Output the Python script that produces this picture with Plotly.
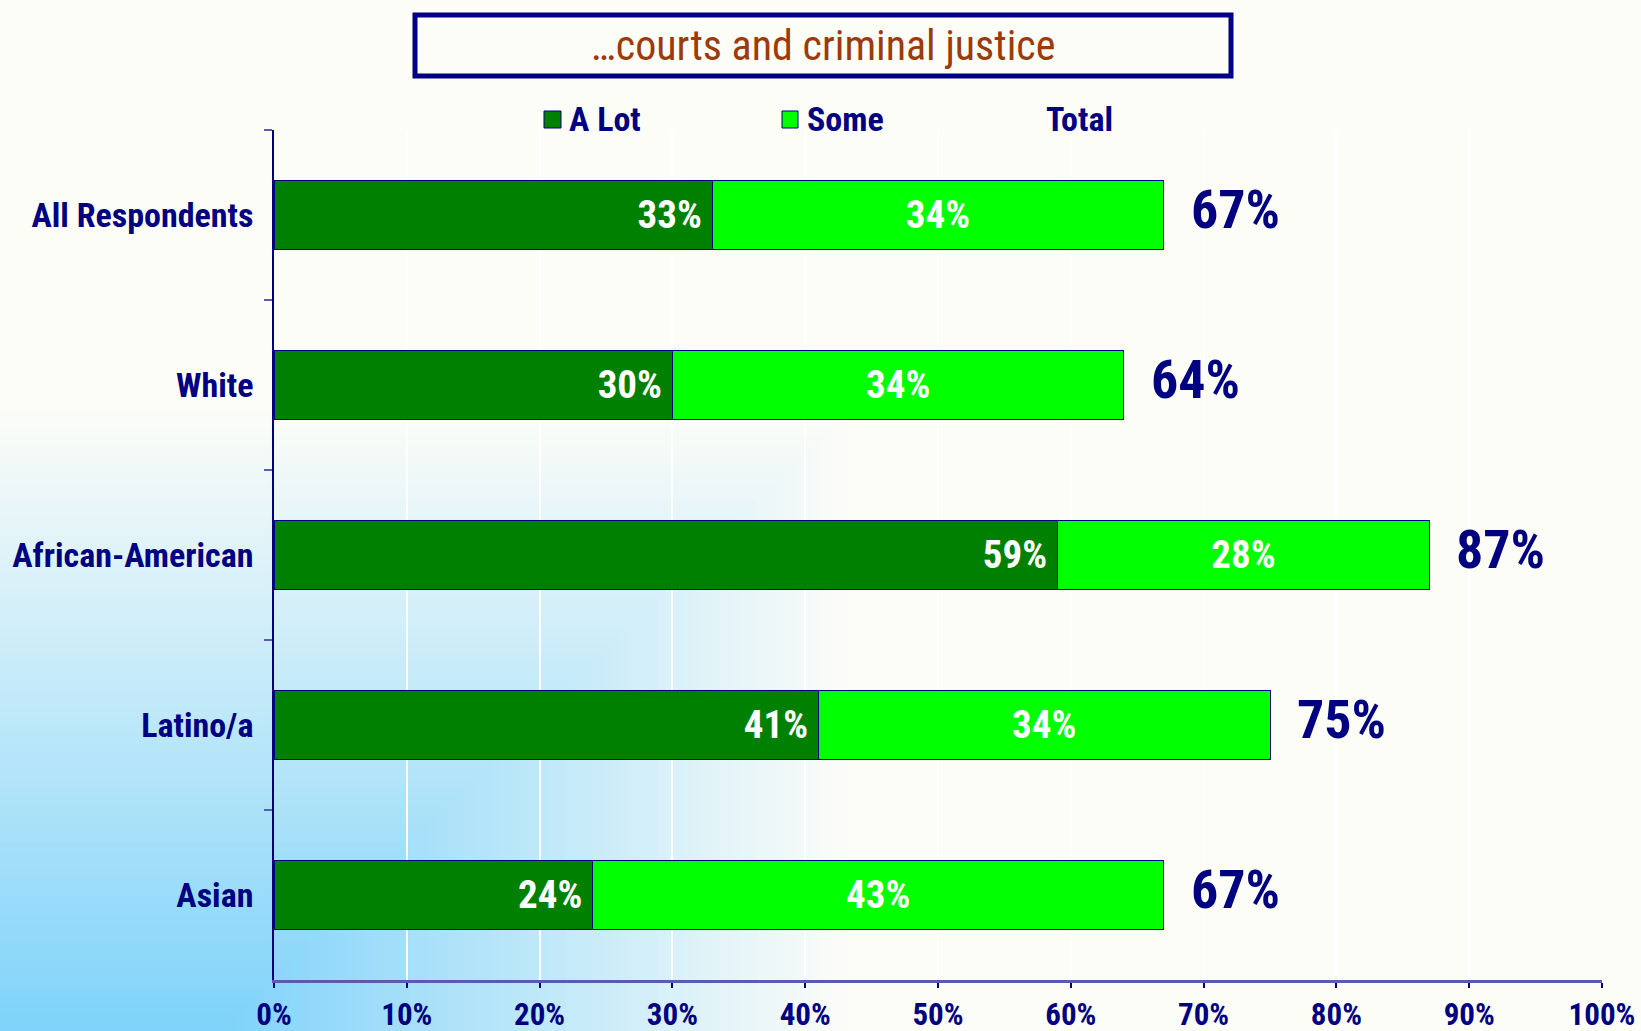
import plotly.graph_objects as go

categories = ["All Respondents", "White", "African-American", "Latino/a", "Asian"]
a_lot = [33, 30, 59, 41, 24]
some = [34, 34, 28, 34, 43]
total = [67, 64, 87, 75, 67]
x_ticks = [0, 10, 20, 30, 40, 50, 60, 70, 80, 90, 100]
x_tick_labels = [f"{v}%" for v in x_ticks]
title_text = "\u2026courts and criminal justice"
legend_names = ["A Lot", "Some", "Total"]

NAVY = "#000080"
DARK = "#008000"
LIGHT = "#00FF00"
BG = "#FDFDF8"
FONT = "Liberation Sans Narrow, Roboto Condensed, Liberation Sans, sans-serif"

W, H = 1641, 1031
L, R, T, B = 274, 1602, 130, 980


def px(x):
    return (x - L) / (R - L)


def py(y):
    return (B - y) / (B - T)


fig = go.Figure()
fig.add_trace(go.Bar(
    y=categories, x=a_lot, orientation="h", name=legend_names[0],
    marker=dict(color=DARK, line=dict(color=NAVY, width=1)),
    text=[f"{v}%\u2009" for v in a_lot], textposition="inside", insidetextanchor="end",
    textfont=dict(family=FONT, size=39, color="white", weight="bold"),
    showlegend=False, hoverinfo="skip",
))
fig.add_trace(go.Bar(
    y=categories, x=some, orientation="h", name=legend_names[1],
    marker=dict(color=LIGHT, line=dict(color=NAVY, width=1)),
    text=[f"{v}%" for v in some], textposition="inside", insidetextanchor="middle",
    textfont=dict(family=FONT, size=39, color="white", weight="bold"),
    showlegend=False, hoverinfo="skip",
))

annotations = []
for c, t in zip(categories, total):
    annotations.append(dict(
        x=t, y=c, xref="x", yref="y", text=f"{t}%", showarrow=False,
        xanchor="left", yanchor="middle", xshift=25, yshift=6,
        font=dict(family=FONT, size=54, color=NAVY, weight="bold"),
    ))

shapes = []
# rectangular background gradient from lower-left corner
c0 = (126, 210, 250)
c1 = (253, 253, 248)
X0, GW, GH = 218, 640, 630
N = 70
for i in range(N):
    t = 1 - i / N
    col = tuple(round(c0[k] + (c1[k] - c0[k]) * t) for k in range(3))
    shapes.append(dict(
        type="rect", xref="paper", yref="paper", layer="below",
        x0=px(-2), x1=px(X0 + t * GW), y0=py(H + 2), y1=py(H - t * GH),
        fillcolor=f"rgb{col}", line=dict(width=0),
    ))

# title box
shapes.append(dict(
    type="rect", xref="paper", yref="paper",
    x0=px(415), x1=px(1231), y0=py(15), y1=py(76),
    fillcolor=BG, line=dict(color=NAVY, width=5),
))
annotations.append(dict(
    x=px(823), y=py(46), xref="paper", yref="paper", text=title_text,
    showarrow=False, xanchor="center", yanchor="middle",
    font=dict(family=FONT, size=42, color="#9C3A0A"),
))

# legend
leg_sq = [(544, 561, DARK), (782, 798, LIGHT)]
for (x0, x1, col) in leg_sq:
    shapes.append(dict(
        type="rect", xref="paper", yref="paper",
        x0=px(x0), x1=px(x1), y0=py(111), y1=py(128),
        fillcolor=col, line=dict(color=NAVY, width=1),
    ))
leg_text_x = [567, 805, 1044]
for name, lx in zip(legend_names, leg_text_x):
    annotations.append(dict(
        x=px(lx), y=py(119), xref="paper", yref="paper", text=name,
        showarrow=False, xanchor="left", yanchor="middle",
        font=dict(family=FONT, size=34, color=NAVY, weight="bold"),
    ))

fig.update_layout(
    width=W, height=H,
    margin=dict(l=L, r=W - R, t=T, b=H - B, pad=0),
    paper_bgcolor=BG, plot_bgcolor="rgba(0,0,0,0)",
    barmode="stack", bargap=0.59,
    shapes=shapes, annotations=annotations,
    showlegend=False,
)
fig.update_xaxes(
    range=[0, 100], tickvals=x_ticks, ticktext=x_tick_labels,
    showgrid=True, gridcolor="white", gridwidth=2,
    showline=True, linecolor="#5A5AB2", linewidth=2.5,
    ticks="outside", ticklen=5, tickwidth=1.5, tickcolor=NAVY,
    tickfont=dict(family=FONT, size=31, color=NAVY, weight="bold"),
    ticklabelstandoff=0, zeroline=False, automargin=False,
)
fig.update_yaxes(
    autorange="reversed", showgrid=False,
    showline=True, linecolor=NAVY, linewidth=1.5,
    ticks="outside", tickson="boundaries", ticklen=8, tickwidth=1.5, tickcolor="#5A5AB2",
    tickfont=dict(family=FONT, size=34, color=NAVY, weight="bold"),
    ticklabelstandoff=12, automargin=False,
)

fig.write_html(
    "out.html",
    config={"displayModeBar": False},
    post_script="document.body.style.margin='0';document.body.style.overflow='hidden';",
)
